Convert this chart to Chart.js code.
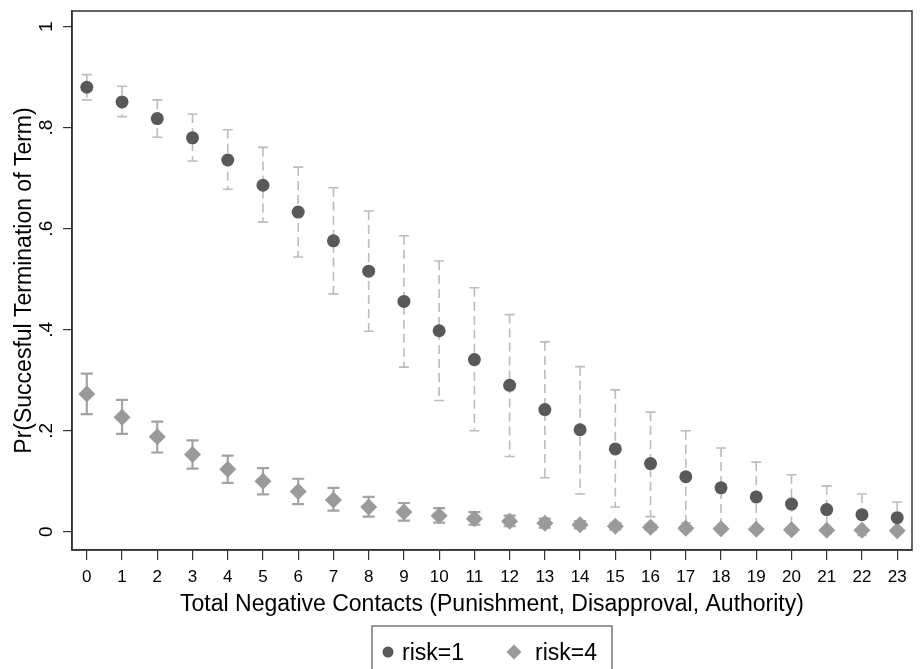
<!DOCTYPE html>
<html>
<head>
<meta charset="utf-8">
<script src="https://cdn.jsdelivr.net/npm/chart.js@4.4.1/dist/chart.umd.min.js"></script>
<style>
  html, body { margin: 0; padding: 0; background: #fff; }
  #wrap { width: 922px; height: 669px; position: relative; }
</style>
</head>
<body>
<div id="wrap"><canvas id="probChart"></canvas></div>
<script>
// x categories: total negative contacts
const contacts = [0, 1, 2, 3, 4, 5, 6, 7, 8, 9, 10, 11, 12, 13, 14, 15, 16, 17, 18, 19, 20, 21, 22, 23];

// risk=1 predicted probabilities and CI bounds
const risk1 = [0.880, 0.851, 0.818, 0.780, 0.736, 0.686, 0.633, 0.576, 0.516, 0.456, 0.398, 0.341,
               0.290, 0.242, 0.202, 0.164, 0.135, 0.109, 0.087, 0.069, 0.055, 0.044, 0.034, 0.028];
const risk1Hi = [0.905, 0.882, 0.855, 0.827, 0.796, 0.761, 0.722, 0.681, 0.635, 0.586, 0.536, 0.483,
                 0.430, 0.376, 0.327, 0.281, 0.237, 0.200, 0.166, 0.138, 0.113, 0.091, 0.075, 0.059];
const risk1Lo = [0.855, 0.822, 0.781, 0.734, 0.678, 0.613, 0.544, 0.471, 0.397, 0.326, 0.260, 0.200,
                 0.149, 0.107, 0.075, 0.049, 0.030, 0.018, 0.008, 0.000, -0.003, -0.003, -0.007, -0.003];

// risk=4 predicted probabilities and CI bounds
const risk4 = [0.273, 0.227, 0.188, 0.153, 0.124, 0.100, 0.080, 0.063, 0.049, 0.039, 0.032, 0.026,
               0.021, 0.017, 0.014, 0.011, 0.009, 0.007, 0.006, 0.005, 0.004, 0.003, 0.003, 0.002];
const risk4Hi = [0.313, 0.261, 0.218, 0.181, 0.151, 0.126, 0.105, 0.087, 0.069, 0.057, 0.047, 0.039,
                 0.032, 0.026, 0.021, 0.017, 0.014, 0.011, 0.009, 0.007, 0.006, 0.005, 0.004, 0.003];
const risk4Lo = [0.233, 0.194, 0.157, 0.125, 0.097, 0.074, 0.055, 0.042, 0.030, 0.022, 0.018, 0.014,
                 0.011, 0.008, 0.007, 0.005, 0.004, 0.003, 0.002, 0.002, 0.001, 0.001, 0.001, 0.001];

const yTickValues = [0, 0.2, 0.4, 0.6, 0.8, 1];
const yTickLabels = ["0", ".2", ".4", ".6", ".8", "1"];

const FONT = "'Liberation Sans', Arial, Helvetica, sans-serif";

// error bars, y tick labels, titles, frame and legend
const stataLook = {
  id: "stataLook",
  beforeDatasetsDraw(chart) {
    const { ctx, scales: { x, y } } = chart;
    const bars = [
      { lo: risk1Lo, hi: risk1Hi, color: "#bcbcbc", width: 1.6, dash: [9, 5], cap: 5 },
      { lo: risk4Lo, hi: risk4Hi, color: "#a3a3a3", width: 2.2, dash: [], cap: 6 }
    ];
    ctx.save();
    bars.forEach(b => {
      ctx.strokeStyle = b.color;
      ctx.lineWidth = b.width;
      contacts.forEach((c, i) => {
        const px = x.getPixelForValue(c);
        const top = y.getPixelForValue(b.hi[i]);
        const bot = y.getPixelForValue(b.lo[i]);
        ctx.setLineDash(b.dash);
        ctx.beginPath();
        ctx.moveTo(px, top);
        ctx.lineTo(px, bot);
        ctx.stroke();
        ctx.setLineDash([]);
        ctx.beginPath();
        ctx.moveTo(px - b.cap, top);
        ctx.lineTo(px + b.cap, top);
        ctx.moveTo(px - b.cap, bot);
        ctx.lineTo(px + b.cap, bot);
        ctx.stroke();
      });
    });
    ctx.restore();
  },
  afterDraw(chart) {
    const { ctx, chartArea: a, scales: { y } } = chart;
    ctx.save();
    // frame
    ctx.strokeStyle = "#333";
    ctx.lineWidth = 1.5;
    ctx.strokeRect(a.left, a.top, a.right - a.left, a.bottom - a.top);

    // rotated y tick labels
    ctx.fillStyle = "#000";
    ctx.font = "19px " + FONT;
    ctx.textAlign = "center";
    ctx.textBaseline = "alphabetic";
    yTickValues.forEach((v, i) => {
      ctx.save();
      ctx.translate(52, y.getPixelForValue(v));
      ctx.rotate(-Math.PI / 2);
      ctx.fillText(yTickLabels[i], 0, 0);
      ctx.restore();
    });

    // axis titles
    ctx.font = "23px " + FONT;
    ctx.save();
    ctx.translate(31, (a.top + a.bottom) / 2);
    ctx.rotate(-Math.PI / 2);
    ctx.fillText("Pr(Succesful Termination of Term)", 0, 0);
    ctx.restore();
    ctx.fillText("Total Negative Contacts (Punishment, Disapproval, Authority)", (a.left + a.right) / 2, 611);

    // legend
    const cx = (a.left + a.right) / 2;
    const lx = cx - 120, ly = 626;
    ctx.strokeStyle = "#333";
    ctx.lineWidth = 1;
    ctx.strokeRect(lx, ly, 240, 60);
    const my = 652;
    ctx.fillStyle = "#595959";
    ctx.beginPath();
    ctx.arc(lx + 16, my, 5.5, 0, Math.PI * 2);
    ctx.fill();
    ctx.fillStyle = "#9a9a9a";
    ctx.beginPath();
    ctx.moveTo(lx + 142 - 7.5, my);
    ctx.lineTo(lx + 142, my - 7.5);
    ctx.lineTo(lx + 142 + 7.5, my);
    ctx.lineTo(lx + 142, my + 7.5);
    ctx.closePath();
    ctx.fill();
    ctx.fillStyle = "#000";
    ctx.textAlign = "left";
    ctx.fillText("risk=1", lx + 30, 660);
    ctx.fillText("risk=4", lx + 163, 660);
    ctx.restore();
  }
};

new Chart(document.getElementById("probChart"), {
  type: "scatter",
  data: {
    datasets: [
      {
        label: "risk=1",
        data: contacts.map((c, i) => ({ x: c, y: risk1[i] })),
        pointStyle: "circle",
        pointRadius: 6.5,
        pointHoverRadius: 6.5,
        backgroundColor: "#595959",
        borderWidth: 0
      },
      {
        label: "risk=4",
        data: contacts.map((c, i) => ({ x: c, y: risk4[i] })),
        pointStyle: "rectRot",
        pointRadius: 8.5,
        pointHoverRadius: 8.5,
        backgroundColor: "#9a9a9a",
        borderWidth: 0
      }
    ]
  },
  options: {
    responsive: true,
    maintainAspectRatio: false,
    animation: false,
    layout: { padding: { top: 11, right: 10, left: 0, bottom: 0 } },
    plugins: {
      legend: { display: false },
      tooltip: { enabled: false }
    },
    scales: {
      x: {
        type: "linear",
        min: -0.42,
        max: 23.42,
        afterBuildTicks: s => { s.ticks = contacts.map(v => ({ value: v })); },
        afterFit: s => { s.height = 119; },
        grid: { drawOnChartArea: false, tickLength: 10, color: "#333", lineWidth: 1.2 },
        border: { display: true, color: "#333", width: 1.5 },
        ticks: {
          color: "#000",
          font: { family: FONT, size: 17 },
          padding: 7,
          maxRotation: 0,
          autoSkip: false
        }
      },
      y: {
        min: -0.036,
        max: 1.031,
        afterBuildTicks: s => { s.ticks = yTickValues.map(v => ({ value: v })); },
        afterFit: s => { s.width = 72; },
        grid: { drawOnChartArea: false, tickLength: 9, color: "#333", lineWidth: 1.2 },
        border: { display: true, color: "#333", width: 1.5 },
        ticks: { display: false }
      }
    }
  },
  plugins: [stataLook]
});
</script>
</body>
</html>
